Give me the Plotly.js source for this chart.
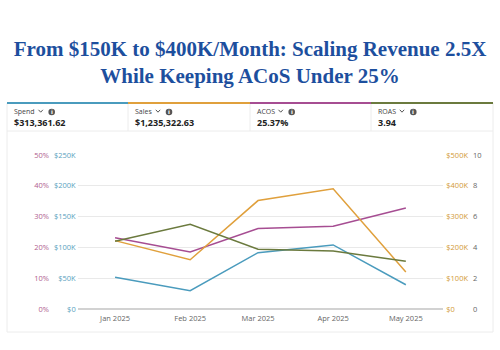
<!DOCTYPE html>
<html>
<head>
<meta charset="utf-8">
<script src="https://cdn.plot.ly/plotly-3.0.1.min.js"></script>
<style>
html,body{margin:0;padding:0;background:#fff;}
#chart{width:500px;height:350px;}
</style>
</head>
<body>
<div id="chart"></div>
<script>
// ---- data ----
const months = ['2025-01-01', '2025-02-01', '2025-03-01', '2025-04-01', '2025-05-01'];
const monthLabels = ['Jan 2025', 'Feb 2025', 'Mar 2025', 'Apr 2025', 'May 2025'];
const spend = [51500, 29700, 91400, 104000, 39400];
const sales = [222000, 160000, 352000, 390000, 120000];
const acos = [23.1, 18.5, 26.1, 26.9, 32.8];
const roas = [4.4, 5.5, 3.88, 3.77, 3.1];

const metricNames = ['Spend', 'Sales', 'ACOS', 'ROAS'];
const metricValues = ['$313,361.62', '$1,235,322.63', '25.37%', '3.94'];
const metricColors = ['#4a9bbd', '#e0a03c', '#a64d92', '#6b7a3e'];

const pctTicks = [0, 10, 20, 30, 40, 50];
const pctLabels = ['0%', '10%', '20%', '30%', '40%', '50%'];
const spendTicks = [0, 50000, 100000, 150000, 200000, 250000];
const spendLabels = ['$0', '$50K', '$100K', '$150K', '$200K', '$250K'];
const salesTicks = [0, 100000, 200000, 300000, 400000, 500000];
const salesLabels = ['$0', '$100K', '$200K', '$300K', '$400K', '$500K'];
const roasTicks = [0, 2, 4, 6, 8, 10];
const roasLabels = ['0', '2', '4', '6', '8', '10'];

// ---- layout helpers (pixel -> paper) ----
const W = 500, H = 350;
const px = x => x / W;
const py = y => 1 - y / H;

const lineW = 1.5;
const traces = [
  {x: months, y: spend, type: 'scatter', mode: 'lines', name: 'Spend', yaxis: 'y',
   line: {color: metricColors[0], width: lineW}},
  {x: months, y: sales, type: 'scatter', mode: 'lines', name: 'Sales', yaxis: 'y3',
   line: {color: metricColors[1], width: lineW}},
  {x: months, y: acos, type: 'scatter', mode: 'lines', name: 'ACOS', yaxis: 'y2',
   line: {color: metricColors[2], width: lineW}},
  {x: months, y: roas, type: 'scatter', mode: 'lines', name: 'ROAS', yaxis: 'y4',
   line: {color: metricColors[3], width: lineW}}
];

const tickFont = (c) => ({family: 'Open Sans, sans-serif', size: 7.5, color: c});

const shapes = [];
const annotations = [];

// outer card
shapes.push({type: 'rect', xref: 'paper', yref: 'paper', x0: px(7), x1: px(493), y0: py(332), y1: py(103),
  line: {color: '#ececec', width: 1}, fillcolor: 'rgba(0,0,0,0)', layer: 'below'});
shapes.push({type: 'line', xref: 'paper', yref: 'paper', x0: px(7), x1: px(493), y0: py(131), y1: py(131),
  line: {color: '#ececec', width: 1}});

const cardX = [7, 128, 250, 371, 493];
const labelX = [11.5, 132.5, 254.5, 375.5];
const chevX = [40.7, 158, 280.7, 402];
const infoX = [51.7, 169, 291.7, 413.3];
for (let i = 0; i < 4; i++) {
  shapes.push({type: 'line', xref: 'paper', yref: 'paper', x0: px(cardX[i]), x1: px(cardX[i + 1]),
    y0: py(103), y1: py(103), line: {color: metricColors[i], width: 2}});
  if (i > 0) {
    shapes.push({type: 'line', xref: 'paper', yref: 'paper', x0: px(cardX[i]), x1: px(cardX[i]),
      y0: py(104), y1: py(131), line: {color: '#ececec', width: 1}});
  }
  annotations.push({xref: 'paper', yref: 'paper', x: px(labelX[i]), y: py(111.5), xanchor: 'left', yanchor: 'middle',
    text: metricNames[i], showarrow: false, font: {family: 'Open Sans, sans-serif', size: 7, color: '#444'}});
  annotations.push({xref: 'paper', yref: 'paper', x: px(labelX[i]), y: py(122.8), xanchor: 'left', yanchor: 'middle',
    text: '<b>' + metricValues[i] + '</b>', showarrow: false,
    font: {family: 'Open Sans, sans-serif', size: 9, color: '#222'}});
  // chevron
  const cx = chevX[i], cy = 111;
  shapes.push({type: 'path', xref: 'paper', yref: 'paper',
    path: `M ${px(cx - 2.2)} ${py(cy - 1.2)} L ${px(cx)} ${py(cy + 1.2)} L ${px(cx + 2.2)} ${py(cy - 1.2)}`,
    line: {color: '#555', width: 1}});
  // info icon
  const ix = infoX[i], iy = 112;
  shapes.push({type: 'circle', xref: 'paper', yref: 'paper', x0: px(ix - 3.3), x1: px(ix + 3.3),
    y0: py(iy + 3.3), y1: py(iy - 3.3), line: {width: 0}, fillcolor: '#555'});
  annotations.push({xref: 'paper', yref: 'paper', x: px(ix), y: py(iy), xanchor: 'center', yanchor: 'middle',
    text: '<b>i</b>', showarrow: false, font: {family: 'DejaVu Sans, sans-serif', size: 5.5, color: '#fff'}});
}

const layout = {
  width: W, height: H,
  margin: {l: 0, r: 0, t: 0, b: 0},
  paper_bgcolor: '#fff', plot_bgcolor: '#fff',
  showlegend: false,
  title: {
    text: '<b>From $150K to $400K/Month: Scaling Revenue 2.5X<br>While Keeping ACoS Under 25%</b>',
    x: 0.5, xanchor: 'center', y: py(56), yanchor: 'middle', yref: 'container',
    font: {family: 'Liberation Serif, serif', size: 21, color: '#1d4f9e'}
  },
  xaxis: {
    type: 'date', domain: [px(78), px(443)],
    range: ['2024-12-16 17:00', '2025-05-16 08:00'],
    tickvals: months, ticktext: monthLabels, showgrid: false, zeroline: false,
    showline: false, ticks: '', ticklabelstandoff: 3, tickfont: tickFont('#666'), fixedrange: true
  },
  yaxis: {
    domain: [py(309), py(155)], range: [0, 250000], anchor: 'free', position: px(75.7), side: 'left',
    tickvals: spendTicks, ticktext: spendLabels, tickfont: tickFont('#5a9fbe'),
    showgrid: true, gridcolor: '#e9e9e9', gridwidth: 1,
    zeroline: true, zerolinecolor: '#d2d2d2', zerolinewidth: 2, showline: false, ticks: ''
  },
  yaxis2: {
    domain: [py(309), py(155)], range: [0, 50], anchor: 'free', position: px(49), side: 'left', overlaying: 'y',
    tickvals: pctTicks, ticktext: pctLabels, tickfont: tickFont('#b0608f'),
    showgrid: false, zeroline: false, showline: false, ticks: ''
  },
  yaxis3: {
    domain: [py(309), py(155)], range: [0, 500000], anchor: 'free', position: px(445.3), side: 'right', overlaying: 'y',
    tickvals: salesTicks, ticktext: salesLabels, tickfont: tickFont('#d29a35'),
    showgrid: false, zeroline: false, showline: false, ticks: ''
  },
  yaxis4: {
    domain: [py(309), py(155)], range: [0, 10], anchor: 'free', position: px(472), side: 'right', overlaying: 'y',
    tickvals: roasTicks, ticktext: roasLabels, tickfont: tickFont('#666'),
    showgrid: false, zeroline: false, showline: false, ticks: ''
  },
  shapes: shapes,
  annotations: annotations
};

Plotly.newPlot('chart', traces, layout, {displayModeBar: false, staticPlot: true});
</script>
</body>
</html>
